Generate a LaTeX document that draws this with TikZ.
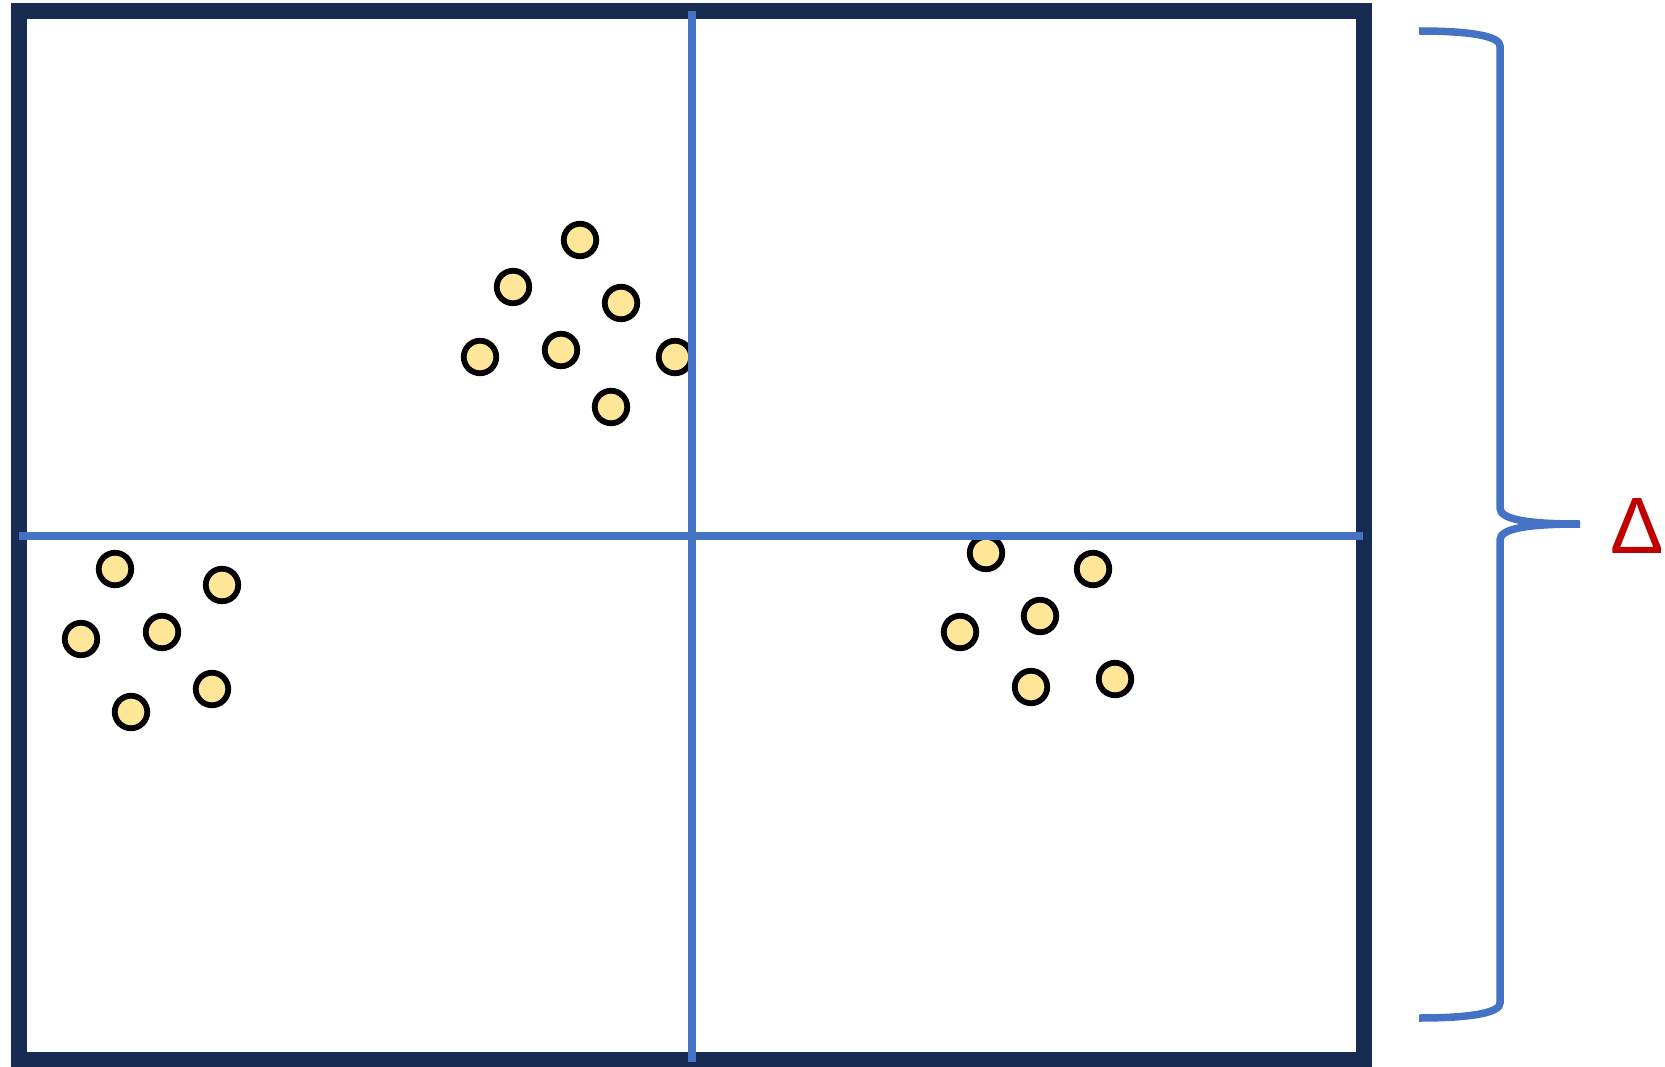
\documentclass[tikz,border=0pt]{standalone}
\usepackage{fontspec}
\newfontfamily\deltafont{Liberation Sans}
\definecolor{navy}{HTML}{182B52}
\definecolor{splitblue}{HTML}{4472C4}
\definecolor{ptfill}{HTML}{FFE699}
\definecolor{deltared}{HTML}{C00000}
\tikzset{
  pt/.style={circle, draw=black, fill=ptfill, line width=5.8pt, minimum size=32.5pt, inner sep=0pt},
  frameline/.style={draw=navy, line width=16pt},
  splitline/.style={draw=splitblue, line width=8pt},
  braceline/.style={draw=splitblue, line width=7.5pt},
}
\begin{document}
\begin{tikzpicture}[x=1pt,y=-1pt]
\useasboundingbox (0,0) rectangle (1665,1067);
% frame
\draw[frameline] (19,11) rectangle (1364,1060);
% points: top cluster
\node[pt] (a1) at (580,240) {};
\node[pt] (a2) at (513,287) {};
\node[pt] (a3) at (621,303) {};
\node[pt] (a4) at (480,357) {};
\node[pt] (a5) at (561,350) {};
\node[pt] (a6) at (675,357) {};
\node[pt] (a7) at (611,407) {};
% left cluster
\node[pt] (b1) at (115,569) {};
\node[pt] (b2) at (222,585) {};
\node[pt] (b3) at (81,639) {};
\node[pt] (b4) at (162,632) {};
\node[pt] (b5) at (212,689) {};
\node[pt] (b6) at (131,712) {};
% right cluster
\node[pt] (c1) at (986,553) {};
\node[pt] (c2) at (1093,569) {};
\node[pt] (c3) at (1040,616) {};
\node[pt] (c4) at (960,632) {};
\node[pt] (c5) at (1115,679) {};
\node[pt] (c6) at (1031,687) {};
% split lines
\coordinate (vtop) at (692,11);
\coordinate (vbot) at (692,1062);
\coordinate (hl) at (19,536);
\coordinate (hr) at (1363,536);
\draw[splitline] (vtop) -- (vbot);
\draw[splitline] (hl) -- (hr);
% brace
\coordinate (btop) at (1419,31);
\coordinate (btip) at (1580,524);
\coordinate (bbot) at (1419,1018);
\draw[braceline] (btop) .. controls (1475,31) and (1500,37) .. (1500,46)
  -- (1500,508) .. controls (1500,520) and (1530,524) .. (btip)
  .. controls (1530,524) and (1500,528) .. (1500,540)
  -- (1500,1003) .. controls (1500,1012) and (1475,1018) .. (bbot);
% delta
\node[text=deltared, font=\deltafont\fontsize{80}{80}\selectfont, inner sep=0pt, anchor=center] (delta) at (1637,526) {Δ};
\end{tikzpicture}
\end{document}
